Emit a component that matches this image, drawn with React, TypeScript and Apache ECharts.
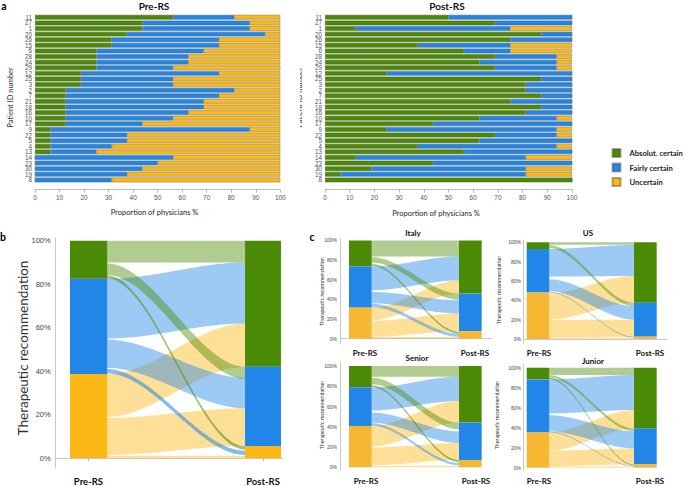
import React, { useEffect, useRef } from 'react';
import * as echarts from 'echarts';

// ---------- Panel a data (percent of 16 physicians) ----------
const patientIds = ['11', '27', '1', '20', '26', '15', '6', '28', '24', '29', '12', '25', '3', '2', '7', '21', '18', '16', '10', '17', '9', '22', '5', '4', '13', '14', '23', '30', '19', '8'];
const preAbsolut = [56.25, 43.75, 43.75, 37.5, 31.25, 31.25, 25, 25, 25, 25, 18.75, 18.75, 18.75, 12.5, 12.5, 12.5, 12.5, 12.5, 12.5, 12.5, 6.25, 6.25, 6.25, 6.25, 6.25, 0, 0, 0, 0, 0];
const preFairly = [25, 43.75, 43.75, 56.25, 43.75, 43.75, 43.75, 37.5, 37.5, 31.25, 56.25, 37.5, 37.5, 68.75, 62.5, 56.25, 56.25, 50, 43.75, 31.25, 81.25, 31.25, 31.25, 25, 18.75, 56.25, 50, 43.75, 37.5, 31.25];
const preUncertain = [18.75, 12.5, 12.5, 6.25, 25, 25, 31.25, 37.5, 37.5, 43.75, 25, 43.75, 43.75, 18.75, 25, 31.25, 31.25, 37.5, 43.75, 56.25, 12.5, 62.5, 62.5, 68.75, 75, 43.75, 50, 56.25, 62.5, 68.75];
const postAbsolut = [50, 68.75, 12.5, 87.5, 75, 37.5, 56.25, 68.75, 62.5, 68.75, 25, 87.5, 81.25, 81.25, 87.5, 75, 87.5, 81.25, 62.5, 43.75, 25, 68.75, 62.5, 37.5, 56.25, 12.5, 43.75, 18.75, 6.25, 100];
const postFairly = [50, 31.25, 62.5, 12.5, 25, 37.5, 18.75, 25, 31.25, 25, 75, 12.5, 18.75, 18.75, 12.5, 25, 12.5, 18.75, 31.25, 56.25, 68.75, 25, 37.5, 56.25, 43.75, 68.75, 56.25, 62.5, 75, 0];
const postUncertain = [0, 0, 25, 0, 0, 25, 25, 6.25, 6.25, 6.25, 0, 0, 0, 0, 0, 0, 0, 0, 6.25, 0, 6.25, 6.25, 0, 6.25, 0, 18.75, 0, 18.75, 18.75, 0];

const categoryNames = ['Absolut. certain', 'Fairly certain', 'Uncertain'];
const stageLabels = ['Pre-RS', 'Post-RS'];
const percentTicks = [0, 20, 40, 60, 80, 100];

// ---------- Alluvial data: node shares (top->bottom: absolut, fairly, uncertain) ----------
const allPre = [17.5, 43.8, 38.7];
const allPost = [57.9, 36.4, 5.7];
// flows: [from, to, leftLow, leftHigh, rightLow, rightHigh]
const allFlows = [
  [2, 2, 0, 1.2, 0, 1.2], [2, 1, 1.5, 18.5, 5.7, 23], [2, 0, 19, 38.7, 42.1, 62],
  [1, 1, 41.5, 54.5, 23, 37], [1, 0, 55, 82.5, 62, 90], [1, 2, 39, 41, 1.5, 3.5],
  [0, 0, 90, 100, 90, 100], [0, 1, 84.2, 89.5, 36.5, 42.1], [0, 2, 82.6, 84, 4, 5.5],
];

const italyPre = [26.4, 42.1, 31.5];
const italyPost = [54.2, 38.3, 7.5];
const italyFlows = [
  [2, 2, 0, 1.5, 0, 1.5], [2, 1, 1.7, 18, 7.5, 25.4], [2, 0, 18.6, 31.5, 45.8, 59.3],
  [1, 1, 36, 47.5, 25.4, 39], [1, 0, 49.2, 73.6, 59.3, 83.7], [1, 2, 32, 35.5, 1.7, 5],
  [0, 0, 83.7, 100, 83.7, 100], [0, 1, 77.5, 83, 39.5, 45.8], [0, 2, 74.2, 76, 5, 7],
];

const usPre = [6.9, 45.1, 48];
const usPost = [62.4, 35.2, 2.4];
const usFlows = [
  [2, 2, 0, 1.5, 0, 1.5], [2, 1, 1.7, 19.7, 2.4, 20], [2, 0, 20, 47.4, 37.6, 65.2],
  [1, 1, 49.5, 61.7, 20, 34], [1, 0, 64.5, 93.1, 65.2, 97.3], [1, 2, 48, 48.8, 1.6, 2.4],
  [0, 0, 97.5, 100, 97.5, 100], [0, 1, 94, 97, 34, 37.6],
];

const seniorPre = [21, 38.2, 40.8];
const seniorPost = [55.9, 36.9, 7.2];
const seniorFlows = [
  [2, 2, 0, 1.5, 0, 1.5], [2, 1, 2, 19.5, 7.2, 24], [2, 0, 20.4, 40.8, 44.1, 65.5],
  [1, 1, 44, 54, 24, 35.5], [1, 0, 56, 78.8, 65.5, 89.5], [1, 2, 41, 43.5, 2, 4.5],
  [0, 0, 89.5, 100, 89.5, 100], [0, 1, 82, 88.5, 37.5, 44.1], [0, 2, 79.2, 81, 5.2, 7.2],
];

const juniorPre = [11.7, 53, 35.3];
const juniorPost = [60.7, 36, 3.3];
const juniorFlows = [
  [2, 2, 0, 1.3, 0, 1.3], [2, 1, 1.5, 17, 3.3, 19.3], [2, 0, 17, 35.3, 39.3, 57.7],
  [1, 1, 36.2, 52.5, 19.3, 36.5], [1, 0, 54.3, 88.3, 57.7, 92.7], [1, 2, 35.3, 36, 1.3, 2],
  [0, 0, 92.7, 100, 92.7, 100], [0, 1, 90, 92.5, 36.5, 39.3], [0, 2, 88.5, 90, 2.2, 3.3],
];

// ---------- styles ----------
const C_GREEN = '#4b8a05';
const C_BLUE = '#2186e8';
const C_YELLOW = '#fcb814';
const C_YELLOW_C = '#f6b833';
const FONT = 'Lato, "Open Sans", sans-serif';
const FONT_SMALL = '"Liberation Sans", Arial, sans-serif';

type Panel = {
  pre: number[]; post: number[]; flows: number[][];
  grid: any; yMin: number; yMax: number;
  preX: number[]; postX: number[]; labelX: number[];
  yellow: string; yFont: number; yMargin: number;
  xFont: number; xMargin: number; showXLine: boolean; showTick: boolean;
};

const panels: Panel[] = [
  { pre: allPre, post: allPost, flows: allFlows, grid: { left: 55.7, top: 238, width: 227.3, height: 230 }, yMin: -4.46, yMax: 101.24, preX: [6.29, 22.7], postX: [83.3, 99.1], labelX: [14.4, 91.2], yellow: C_YELLOW, yFont: 7.5, yMargin: 5, xFont: 9.5, xMargin: 8, showXLine: true, showTick: true },
  { pre: italyPre, post: italyPost, flows: italyFlows, grid: { left: 340, top: 238, width: 152, height: 106 }, yMin: -5.61, yMax: 102.55, preX: [5.92, 20.86], postX: [78.3, 93.2], labelX: [16.4, 88.8], yellow: C_YELLOW_C, yFont: 5, yMargin: 3, xFont: 8, xMargin: 5, showXLine: true, showTick: false },
  { pre: usPre, post: usPost, flows: usFlows, grid: { left: 523, top: 240, width: 144, height: 103.3 }, yMin: -4.45, yMax: 102.38, preX: [2.57, 18.26], postX: [77.1, 92.85], labelX: [11.1, 88.2], yellow: C_YELLOW_C, yFont: 5, yMargin: 2, xFont: 8, xMargin: 5.5, showXLine: true, showTick: false },
  { pre: seniorPre, post: seniorPost, flows: seniorFlows, grid: { left: 340, top: 362, width: 152, height: 108 }, yMin: -2.67, yMax: 103.95, preX: [5.92, 20.86], postX: [78.3, 93.2], labelX: [17.1, 89.5], yellow: C_YELLOW_C, yFont: 5, yMargin: 3, xFont: 8, xMargin: 7, showXLine: false, showTick: false },
  { pre: juniorPre, post: juniorPost, flows: juniorFlows, grid: { left: 523, top: 364, width: 144, height: 107 }, yMin: -3.3, yMax: 103.7, preX: [2.57, 18.26], postX: [77.1, 92.85], labelX: [11.1, 88.2], yellow: C_YELLOW_C, yFont: 5, yMargin: 2, xFont: 8, xMargin: 6, showXLine: false, showTick: false },
];

function nodeRects(shares: number[], x: number[]) {
  let top = 100;
  return shares.map((s, i) => {
    const r = [x[0], x[1], top - s, top, i];
    top -= s;
    return r;
  });
}

function buildOption() {
  const grids: any[] = [
    { left: 35, top: 14.5, width: 245.3, height: 168.2, show: true, backgroundColor: '#d4d4d4', borderWidth: 0 },
    { left: 325, top: 14.5, width: 247, height: 168.2, show: true, backgroundColor: '#d4d4d4', borderWidth: 0 },
  ];
  const xAxes: any[] = [];
  const yAxes: any[] = [];
  const series: any[] = [];

  [0, 1].forEach((g) => {
    xAxes.push({
      gridIndex: g, type: 'value', min: 0, max: 100, interval: 10, offset: 7,
      axisLabel: { fontSize: 6.5, color: '#555', margin: 4, fontFamily: FONT_SMALL },
      axisLine: { show: true, lineStyle: { color: '#bbb' } },
      axisTick: { show: true, length: 3, lineStyle: { color: '#bbb' } },
      splitLine: { show: false },
    });
    yAxes.push({
      gridIndex: g, type: 'category', data: patientIds, inverse: true,
      axisLabel: { show: false },
      axisLine: { show: false }, axisTick: { show: false },
    });
    // patient ID labels placed through the category scale
    series.push({
      type: 'custom', coordinateSystem: 'cartesian2d', xAxisIndex: g, yAxisIndex: g, z: 5, silent: true,
      data: patientIds.map((id, i) => [0, i]),
      renderItem: (params: any, api: any) => {
        const c = api.coord([0, api.value(1)]);
        return {
          type: 'text', x: c[0] - 3, y: c[1],
          style: {
            text: patientIds[params.dataIndex], fontSize: 6.3, fontFamily: FONT_SMALL, fill: '#555',
            align: 'right', verticalAlign: 'middle',
          },
        };
      },
    });
  });

  const barSets = [
    [preAbsolut, preFairly, preUncertain],
    [postAbsolut, postFairly, postUncertain],
  ];
  const barColors = [C_GREEN, C_BLUE, C_YELLOW];
  barSets.forEach((set, g) => {
    set.forEach((vals, k) => {
      series.push({
        type: 'bar', name: categoryNames[k], stack: 'st' + g, xAxisIndex: g, yAxisIndex: g,
        data: vals, barCategoryGap: '20%',
        itemStyle: { color: barColors[k], borderColor: 'rgba(70,70,50,0.45)', borderWidth: 0.5 },
      });
    });
  });

  panels.forEach((p, idx) => {
    const gi = idx + 2;
    grids.push({ ...p.grid });
    xAxes.push({
      gridIndex: gi, type: 'value', min: 0, max: 100,
      axisLine: { show: p.showXLine, lineStyle: { color: '#c8c8c8' } },
      axisTick: { show: p.showTick, customValues: p.labelX, length: 3, lineStyle: { color: '#bbb' } },
      splitLine: { show: false },
      axisLabel: {
        customValues: p.labelX, margin: p.xMargin, fontSize: p.xFont, fontWeight: 'bold', color: '#111', fontFamily: FONT,
        formatter: (v: number) => (Math.abs(v - p.labelX[0]) < 0.5 ? stageLabels[0] : stageLabels[1]),
      },
    });
    yAxes.push({
      gridIndex: gi, type: 'value', min: p.yMin, max: p.yMax,
      axisLine: { show: true, lineStyle: { color: '#c8c8c8' } },
      axisTick: { show: false }, splitLine: { show: false },
      axisLabel: { customValues: percentTicks, formatter: '{value}%', fontSize: p.yFont, color: '#444', margin: p.yMargin, fontFamily: FONT_SMALL },
    });
    const nodeColors = [C_GREEN, C_BLUE, p.yellow];
    const flowColors = ['rgba(75,138,5,', 'rgba(33,134,232,', 'rgba(250,182,20,'];
    const xa = p.preX[1];
    const xb = p.postX[0];
    series.push({
      type: 'custom', coordinateSystem: 'cartesian2d', xAxisIndex: gi, yAxisIndex: gi, z: 2,
      data: p.flows,
      renderItem: (params: any, api: any) => {
        const from = api.value(0);
        const l0 = api.value(2), l1 = api.value(3), r0 = api.value(4), r1 = api.value(5);
        const a1 = api.coord([xa, l1]);
        const b1 = api.coord([xb, r1]);
        const a0 = api.coord([xa, l0]);
        const b0 = api.coord([xb, r0]);
        const pts: number[][] = [];
        const N = 36;
        for (let i = 0; i <= N; i++) {
          const t = i / N;
          const s = t * t * (3 - 2 * t);
          pts.push([a1[0] + (b1[0] - a1[0]) * t, a1[1] + (b1[1] - a1[1]) * s]);
        }
        for (let i = N; i >= 0; i--) {
          const t = i / N;
          const s = t * t * (3 - 2 * t);
          pts.push([a0[0] + (b0[0] - a0[0]) * t, a0[1] + (b0[1] - a0[1]) * s]);
        }
        const thin = l1 - l0 < 2.5 && from !== 2;
        const alpha = thin ? 0.55 : 0.44;
        return { type: 'polygon', shape: { points: pts }, style: { fill: flowColors[from] + alpha + ')' } };
      },
    });
    series.push({
      type: 'custom', coordinateSystem: 'cartesian2d', xAxisIndex: gi, yAxisIndex: gi, z: 3,
      data: [...nodeRects(p.pre, p.preX), ...nodeRects(p.post, p.postX)],
      renderItem: (params: any, api: any) => {
        const q0 = api.coord([api.value(0), api.value(3)]);
        const q1 = api.coord([api.value(1), api.value(2)]);
        return {
          type: 'rect',
          shape: { x: q0[0], y: q0[1], width: q1[0] - q0[0], height: q1[1] - q0[1] },
          style: { fill: nodeColors[api.value(4)] },
        };
      },
    });
  });

  const t = (x: number, y: number, text: string, fontSize: number, extra: any = {}) => ({
    type: 'text', x, y, rotation: extra.rotation || 0, z: 20,
    style: {
      text, fontSize, fontFamily: extra.fontFamily || FONT, fontWeight: extra.fontWeight || 'normal',
      fill: extra.fill || '#222', align: 'center', verticalAlign: 'middle',
    },
  });
  const R = Math.PI / 2;

  const graphic: any[] = [
    t(4, 5.5, 'a', 10.5, { fontWeight: 'bold', fill: '#000' }),
    t(3, 237, 'b', 10.5, { fontWeight: 'bold', fill: '#000' }),
    t(312, 237, 'c', 10.5, { fontWeight: 'bold', fill: '#000' }),
    t(154, 5.5, 'Pre-RS', 10, { fontWeight: 'bold', fill: '#111' }),
    t(447, 5.5, 'Post-RS', 10, { fontWeight: 'bold', fill: '#111' }),
    t(10, 97.5, 'Patient ID number', 7.5, { rotation: R, fill: '#333' }),
    t(299.5, 97.5, 'Patient ID number', 7.5, { rotation: R, fill: '#333' }),
    { type: 'rect', shape: { x: 285, y: 50, width: 15, height: 100 }, style: { fill: '#fff' }, z: 21 },
    t(154.5, 212, 'Proportion of physicians %', 7.5, { fill: '#222' }),
    t(436, 213, 'Proportion of physicians %', 7.5, { fill: '#222' }),
    t(23, 348, 'Therapeutic recommendation', 13.5, { rotation: R, fill: '#333' }),
    t(322, 291.5, 'Therapeutic recommendation', 5.3, { rotation: R, fill: '#333' }),
    t(322, 415, 'Therapeutic recommendation', 5.3, { rotation: R, fill: '#333' }),
    t(499, 290, 'Therapeutic recommendation', 5.3, { rotation: R, fill: '#333' }),
    t(497, 415, 'Therapeutic recommendation', 5.3, { rotation: R, fill: '#333' }),
    t(413, 233, 'Italy', 8, { fontWeight: 'bold', fill: '#111' }),
    t(588, 233, 'US', 8, { fontWeight: 'bold', fill: '#111' }),
    t(417, 358, 'Senior', 8, { fontWeight: 'bold', fill: '#111' }),
    t(593, 361, 'Junior', 8, { fontWeight: 'bold', fill: '#111' }),
  ];

  return {
    animation: false,
    backgroundColor: '#fff',
    legend: {
      orient: 'vertical', left: 611.5, top: 148, padding: 0, itemWidth: 8, itemHeight: 8, itemGap: 4.5, icon: 'rect',
      data: categoryNames, selectedMode: false,
      textStyle: { fontSize: 7.6, fontWeight: 'bold', fontFamily: FONT, color: '#222', padding: [0, 0, 0, 4] },
    },
    grid: grids,
    xAxis: xAxes,
    yAxis: yAxes,
    series,
    graphic,
  };
}

export default function App() {
  const ref = useRef<HTMLDivElement>(null);
  useEffect(() => {
    document.body.style.margin = '0';
    if (!ref.current) return;
    const chart = echarts.init(ref.current, undefined, { renderer: 'svg' });
    chart.setOption(buildOption() as any);
    return () => chart.dispose();
  }, []);
  return <div ref={ref} style={{ position: 'absolute', left: 0, top: 0, width: 685, height: 486, background: '#fff' }} />;
}
